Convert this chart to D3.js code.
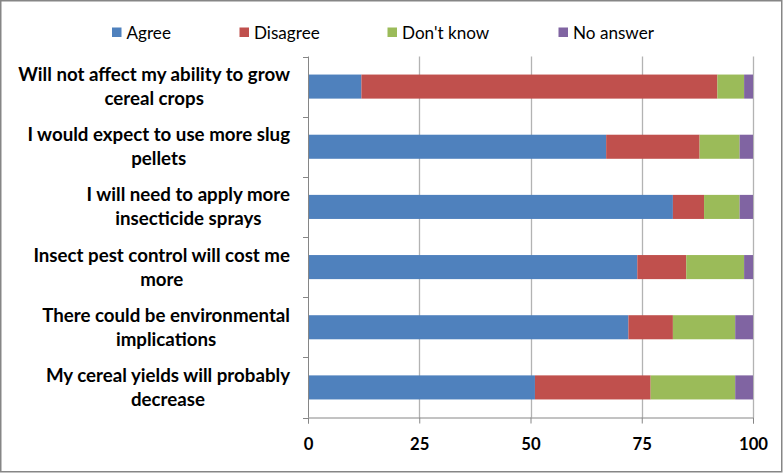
<!DOCTYPE html>
<html><head><meta charset="utf-8">
<script src="https://cdn.jsdelivr.net/npm/d3@7"></script>
<style>html,body{margin:0;padding:0;background:#fff;}svg{display:block;}</style>
</head><body>
<script>
const categories = [
  ["Will not affect my ability to grow", "cereal crops"],
  ["I would expect to use more slug", "pellets"],
  ["I will need to apply more", "insecticide sprays"],
  ["Insect pest control will cost me", "more"],
  ["There could be environmental", "implications"],
  ["My cereal yields will probably", "decrease"]
];
const seriesNames = ["Agree", "Disagree", "Don't know", "No answer"];
const agree     = [12, 67, 82, 74, 72, 51];
const disagree  = [80, 21, 7, 11, 10, 26];
const dontKnow  = [6, 9, 8, 13, 14, 19];
const noAnswer  = [2, 3, 3, 2, 4, 4];
const xTicks = [0, 25, 50, 75, 100];
const colors = ["#4F81BD", "#C0504D", "#9BBB59", "#8064A2"];

const W = 784, H = 474;
const svg = d3.select("body").append("svg").attr("width", W).attr("height", H);
svg.append("rect").attr("x", 0.75).attr("y", 0.75).attr("width", W - 3).attr("height", H - 3)
  .attr("fill", "#fff").attr("stroke", "#868686").attr("stroke-width", 1.5);

const fontFam = "Lato, 'Open Sans', sans-serif";
function fitSize(text, weight, target) {
  const t = svg.append("text").text(text).attr("font-family", fontFam).attr("font-weight", weight).attr("font-size", "100px");
  const w = t.node().getComputedTextLength();
  t.remove();
  return 100 * target / w;
}
const catSize = fitSize(categories[0][0], "bold", 272);
const legSize = fitSize("No answer", "normal", 81);
const tickSize = fitSize("100", "bold", 29);

const m = {left: 308, right: 753, top: 56.5, bottom: 417.5};
const x = d3.scaleLinear().domain([0, 100]).range([m.left, m.right]);
const idx = categories.map((d, i) => i);
const y = d3.scaleBand().domain(idx).range([m.top, m.bottom]).paddingInner(0.6).paddingOuter(0.3);
const yb = d3.scaleBand().domain(idx).range([m.top, m.bottom]);

// gridlines
svg.append("g").selectAll("line").data(xTicks.filter(t => t > 0)).join("line")
  .attr("x1", d => Math.round(x(d)) + 0.5).attr("x2", d => Math.round(x(d)) + 0.5)
  .attr("y1", m.top).attr("y2", m.bottom)
  .attr("stroke", "#b3b3b3").attr("stroke-width", 1.3);

// stacked bars
const rows = idx.map(i => ({i, Agree: agree[i], Disagree: disagree[i], "Don't know": dontKnow[i], "No answer": noAnswer[i]}));
const stack = d3.stack().keys(seriesNames)(rows);
svg.append("g").selectAll("g").data(stack).join("g").attr("fill", (d, k) => colors[k])
  .selectAll("rect").data(d => d).join("rect")
  .attr("x", d => x(d[0])).attr("width", d => x(d[1]) - x(d[0]))
  .attr("y", d => y(d.data.i)).attr("height", y.bandwidth());

// x axis
const xAxis = svg.append("g").attr("transform", `translate(0,${m.bottom})`)
  .call(d3.axisBottom(x).tickValues(xTicks).tickSize(6).tickPadding(0));
xAxis.select(".domain").attr("stroke", "#868686");
xAxis.selectAll(".tick line").attr("stroke", "#868686");
xAxis.selectAll("text").attr("font-family", fontFam).attr("font-weight", "bold")
  .attr("font-size", tickSize + "px").attr("fill", "#000").attr("dy", null).attr("y", 449.5 - m.bottom);

// y axis line with ticks at band boundaries
const yAxis = svg.append("g");
yAxis.append("line").attr("x1", m.left + 0.5).attr("x2", m.left + 0.5).attr("y1", m.top).attr("y2", m.bottom)
  .attr("stroke", "#868686");
const bounds = idx.map(i => yb(i)).concat([m.bottom]);
yAxis.selectAll(".yt").data(bounds).join("line").attr("class", "yt")
  .attr("x1", m.left - 5).attr("x2", m.left).attr("y1", d => Math.round(d) + 0.5).attr("y2", d => Math.round(d) + 0.5)
  .attr("stroke", "#868686");

// category labels
const labelRight = 290;
const lg = svg.append("g");
categories.forEach((lines, i) => {
  const g = lg.append("g");
  const cy = yb(i) + yb.bandwidth() / 2;
  const texts = lines.map((t, j) => g.append("text").text(t)
    .attr("font-family", fontFam).attr("font-weight", "bold").attr("font-size", catSize + "px")
    .attr("fill", "#000").attr("text-anchor", "middle")
    .attr("y", cy - 5.5 + j * 24));
  const maxW = d3.max(texts, t => t.node().getComputedTextLength());
  texts.forEach(t => t.attr("x", labelRight - maxW / 2));
});

// legend
const legendX = [112, 239.5, 387.5, 558.5];
const leg = svg.append("g");
seriesNames.forEach((s, k) => {
  leg.append("rect").attr("x", legendX[k]).attr("y", 27.5).attr("width", 9.5).attr("height", 9.5).attr("fill", colors[k]);
  leg.append("text").text(s).attr("x", legendX[k] + 14.5).attr("y", 38.5)
    .attr("font-family", fontFam).attr("font-size", legSize + "px").attr("fill", "#000");
});
</script>
</body></html>
